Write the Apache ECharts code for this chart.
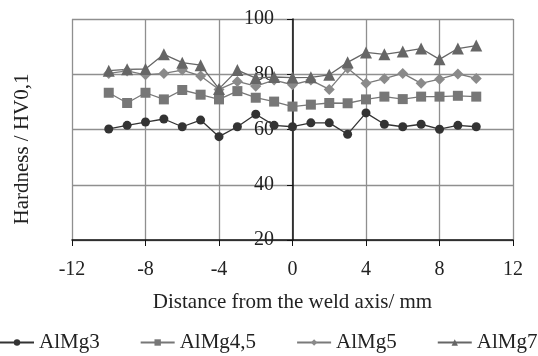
<!DOCTYPE html>
<html>
<head>
<meta charset="utf-8">
<script src="https://cdn.jsdelivr.net/npm/echarts@6/dist/echarts.min.js"></script>
<style>
  html, body { margin: 0; padding: 0; background: #fff; }
  #chart { width: 538px; height: 356px; }
</style>
</head>
<body>
<div id="chart"></div>
<script>
// distance from the weld axis, mm
const distance = [-10, -9, -8, -7, -6, -5, -4, -3, -2, -1, 0, 1, 2, 3, 4, 5, 6, 7, 8, 9, 10]
// hardness HV0,1
const almg3 = [60.2, 61.5, 62.7, 63.8, 61.0, 63.4, 57.4, 61.0, 65.5, 61.5, 61.0, 62.4, 62.4, 58.3, 66.0, 61.9, 61.0, 61.9, 60.1, 61.5, 61.0]
const almg45 = [73.3, 69.6, 73.3, 70.9, 74.3, 72.6, 70.9, 73.9, 71.5, 70.1, 68.3, 69.0, 69.6, 69.5, 70.9, 71.9, 71.0, 71.9, 71.9, 72.2, 71.9]
const almg5 = [80.3, 81.2, 79.8, 80.3, 81.5, 79.4, 74.5, 77.4, 75.7, 77.9, 76.2, 77.9, 74.5, 82.2, 76.7, 78.4, 80.3, 76.7, 78.2, 80.1, 78.5]
const almg7 = [81.3, 81.8, 81.9, 87.2, 84.2, 83.3, 74.7, 81.5, 78.6, 79.0, 78.8, 78.9, 79.8, 84.3, 87.9, 87.2, 88.2, 89.3, 85.4, 89.3, 90.4]
const seriesNames = ['AlMg3', 'AlMg4,5', 'AlMg5', 'AlMg7']

const font = 'Liberation Serif'
const pairs = (vals) => distance.map((d, i) => [d, vals[i]])

const mkSeries = (name, vals, symbol, size, color, lineColor) => ({
  name,
  type: 'line',
  data: pairs(vals),
  symbol,
  symbolSize: size,
  itemStyle: { color },
  lineStyle: { color: lineColor, width: 1.3 },
  emphasis: { disabled: true },
  animation: false
})

const chart = echarts.init(document.getElementById('chart'))
chart.setOption({
  backgroundColor: '#fff',
  grid: { left: 72, right: 25, top: 19, bottom: 116, outerBoundsMode: 'none', containLabel: false },
  // y title sits off the axis, lower than the plot centre
  graphic: [{
    type: 'text',
    x: 22,
    y: 149,
    rotation: Math.PI / 2,
    style: {
      text: 'Hardness / HV0,1',
      font: '21px "Liberation Serif"',
      fill: '#222',
      align: 'center',
      verticalAlign: 'middle'
    }
  }],
  xAxis: {
    type: 'value',
    min: -12,
    max: 12,
    interval: 4,
    name: 'Distance from the weld axis/ mm',
    nameLocation: 'middle',
    nameGap: 52,
    nameTextStyle: { fontFamily: font, fontSize: 21, color: '#222' },
    axisLine: { onZero: false, lineStyle: { color: '#111', width: 1.5 } },
    axisTick: { length: 6, lineStyle: { color: '#111' } },
    axisLabel: { fontFamily: font, fontSize: 20, color: '#222', margin: 20 },
    splitLine: { lineStyle: { color: '#8f8f8f', width: 1.3 } }
  },
  yAxis: {
    type: 'value',
    min: 20,
    max: 100,
    interval: 20,
    position: 'left',
    offset: -221,
    axisLine: { onZero: false, lineStyle: { color: '#111', width: 1.5 } },
    axisTick: { length: 6, lineStyle: { color: '#111' } },
    axisLabel: { fontFamily: font, fontSize: 20, color: '#222', margin: 19 },
    splitLine: { lineStyle: { color: '#8f8f8f', width: 1.3 } }
  },
  legend: {
    top: 327,
    left: -6,
    width: 600,
    itemGap: 40,
    itemWidth: 34,
    itemHeight: 8,
    textStyle: { fontFamily: font, fontSize: 21, color: '#222' },
    data: seriesNames
  },
  series: [
    mkSeries(seriesNames[0], almg3, 'circle', 9, '#333', '#333'),
    mkSeries(seriesNames[1], almg45, 'rect', 10, '#777', '#777'),
    mkSeries(seriesNames[2], almg5, 'diamond', 11, '#8a8a8a', '#7a7a7a'),
    mkSeries(seriesNames[3], almg7, 'triangle', 12, '#666', '#666')
  ]
})
</script>
</body>
</html>
